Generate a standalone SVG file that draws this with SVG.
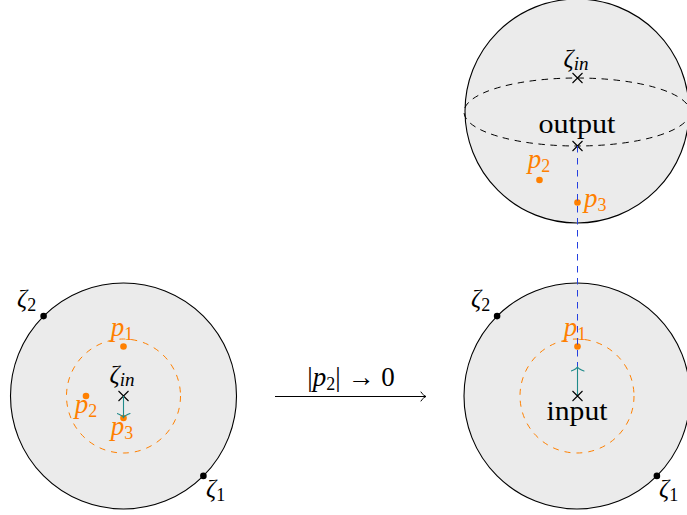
<svg xmlns="http://www.w3.org/2000/svg" width="687" height="515" viewBox="0 0 687 515" font-family="'Liberation Serif', serif">
<style>
.disk{fill:#ebebeb;stroke:#000;stroke-width:1.1}
.odash{fill:none;stroke:#ff8000;stroke-width:1;stroke-dasharray:6 6}
.kdash{fill:none;stroke:#000;stroke-width:1;stroke-dasharray:6.5 5.5}
.bdash{fill:none;stroke:#2540e0;stroke-width:1;stroke-dasharray:6.5 5.5}
.od{fill:#ff8000}
.kd{fill:#000}
.x{stroke:#000;stroke-width:1.1;fill:none}
.teal{stroke:#1f8a8a;stroke-width:1.1;fill:none}
.t{font-family:'Liberation Serif',serif;fill:#000}
.m{font-style:italic}
.o{fill:#ff8000}
.up{font-style:normal}
</style>
<defs>
<marker id="tealhead" viewBox="-6 -7 8 14" refX="0" refY="0" markerWidth="8" markerHeight="14" markerUnits="userSpaceOnUse" orient="auto">
<path d="M-4,-6.5 C-2.5,-2.5 -0.8,-0.4 0,0 C-0.8,0.4 -2.5,2.5 -4,6.5" fill="none" stroke="#1f8a8a" stroke-width="1.1" stroke-linecap="round"/>
</marker>
<marker id="blackhead" viewBox="-7 -6 8 12" refX="0" refY="0" markerWidth="8" markerHeight="12" markerUnits="userSpaceOnUse" orient="auto">
<path d="M-5,-4.5 C-3.5,-1.8 -1,-0.4 0,0 C-1,0.4 -3.5,1.8 -5,4.5" fill="none" stroke="#000" stroke-width="1" stroke-linecap="round"/>
</marker>
</defs>

<g id="left-disk">
<circle class="disk" cx="123.5" cy="396" r="113"/>
<circle class="odash" cx="123.5" cy="396" r="57"/>
<circle class="kd" cx="43.6" cy="316.1" r="3.3"/>
<circle class="kd" cx="203.4" cy="475.9" r="3.3"/>
<text x="17" y="307" class="t m" font-size="25">ζ<tspan class="up" font-size="18" dy="4">2</tspan></text>
<text x="206" y="497" class="t m" font-size="25">ζ<tspan class="up" font-size="18" dy="4">1</tspan></text>
<circle class="od" cx="123.5" cy="346.5" r="3.3"/>
<circle class="od" cx="86" cy="396" r="3.3"/>
<circle class="od" cx="123.5" cy="418" r="3.3"/>
<text x="122" y="336" class="t m o" font-size="27" text-anchor="middle">p<tspan class="up" font-size="18" dy="4">1</tspan></text>
<text x="86" y="413" class="t m o" font-size="27" text-anchor="middle">p<tspan class="up" font-size="18" dy="4">2</tspan></text>
<text x="122" y="435" class="t m o" font-size="27" text-anchor="middle">p<tspan class="up" font-size="18" dy="4">3</tspan></text>
<text x="122" y="383" class="t m" font-size="25" text-anchor="middle">ζ<tspan font-size="19" dy="3">in</tspan></text>
<path class="x" d="M118.5,391 L128.5,401 M128.5,391 L118.5,401"/>
</g>

<g id="right-disk">
<circle class="disk" cx="577" cy="396" r="113"/>
<circle class="odash" cx="577" cy="396" r="57"/>
<circle class="kd" cx="497.1" cy="316.1" r="3.3"/>
<circle class="kd" cx="656.9" cy="475.9" r="3.3"/>
<text x="471" y="307" class="t m" font-size="25">ζ<tspan class="up" font-size="18" dy="4">2</tspan></text>
<text x="659" y="497" class="t m" font-size="25">ζ<tspan class="up" font-size="18" dy="4">1</tspan></text>
<circle class="od" cx="577.5" cy="346.5" r="3.3"/>
<text x="575" y="336" class="t m o" font-size="27" text-anchor="middle">p<tspan class="up" font-size="18" dy="4">1</tspan></text>
<text x="577" y="420" class="t" font-size="27" text-anchor="middle" textLength="61" lengthAdjust="spacingAndGlyphs">input</text>
</g>

<g id="sphere">
<circle class="disk" cx="577" cy="111" r="112"/>
<ellipse class="kdash" cx="577" cy="112" rx="113" ry="34"/>
<path class="x" d="M572.5,73 L582.5,83 M582.5,73 L572.5,83"/>
<path class="x" d="M572.5,141 L582.5,151 M582.5,141 L572.5,151"/>
<text x="576" y="67" class="t m" font-size="25" text-anchor="middle">ζ<tspan font-size="19" dy="3">in</tspan></text>
<text x="577" y="133" class="t" font-size="27" text-anchor="middle" textLength="77" lengthAdjust="spacingAndGlyphs">output</text>
<circle class="od" cx="539.5" cy="180" r="3.3"/>
<circle class="od" cx="577.5" cy="202.5" r="3.3"/>
<text x="539" y="168" class="t m o" font-size="27" text-anchor="middle">p<tspan class="up" font-size="18" dy="4">2</tspan></text>
<text x="584" y="207" class="t m o" font-size="27">p<tspan class="up" font-size="18" dy="4">3</tspan></text>
</g>

<g id="connectors">
<line class="bdash" x1="577.5" y1="146" x2="577.5" y2="396"/>
<line class="teal" x1="123.5" y1="396" x2="123.5" y2="417.5" marker-end="url(#tealhead)"/>
<line class="teal" x1="577.5" y1="396" x2="577.5" y2="367" marker-end="url(#tealhead)"/>
<path class="x" d="M572.5,391 L582.5,401 M582.5,391 L572.5,401"/>
<line x1="275" y1="396.5" x2="426" y2="396.5" stroke="#000" stroke-width="1" marker-end="url(#blackhead)"/>
<text x="351" y="386" class="t" font-size="27" text-anchor="middle">|<tspan class="m">p</tspan><tspan font-size="18" dy="4">2</tspan><tspan dy="-4">| → 0</tspan></text>
</g>
</svg>
